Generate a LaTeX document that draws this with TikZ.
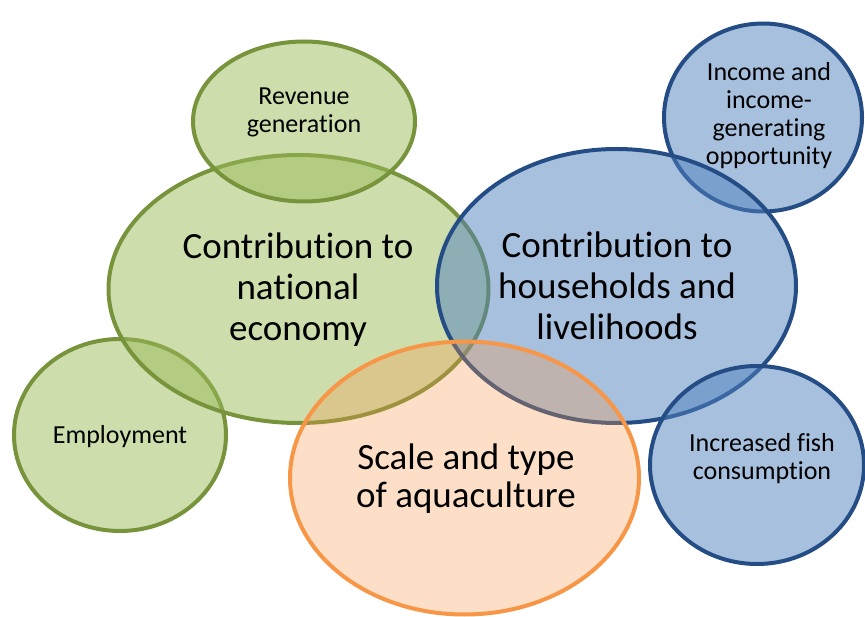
\documentclass[tikz,border=0pt]{standalone}
\usepackage{fontspec}
\setmainfont{Carlito}[Ligatures={NoCommon}]
\usetikzlibrary{shapes.geometric}
\definecolor{gfill}{HTML}{9BBB59}
\definecolor{gline}{HTML}{77933C}
\definecolor{bfill}{HTML}{4F81BD}
\definecolor{bline}{HTML}{254D85}
\definecolor{ofill}{HTML}{F79646}
\definecolor{oline}{HTML}{F79646}
\tikzset{
  bub/.style={ellipse, inner sep=0pt, outer sep=0pt, line width=4pt},
  greenbub/.style={bub, draw=gline, fill=gfill, fill opacity=0.5},
  bluebub/.style={bub, draw=bline, fill=bfill, fill opacity=0.5},
  orangebub/.style={bub, draw=oline, fill=ofill, fill opacity=0.3},
  bigtext/.style={align=center, inner sep=0pt, text=black, font=\fontsize{37}{41}\selectfont},
  midtext/.style={align=center, inner sep=0pt, text=black, font=\fontsize{37}{38}\selectfont},
  smalltext/.style={align=center, inner sep=0pt, text=black, font=\fontsize{26}{28}\selectfont},
}
\begin{document}
\begin{tikzpicture}[x=1pt,y=-1pt]
\useasboundingbox (0,0) rectangle (865,617);
% Employment
\node[greenbub, minimum width=212pt, minimum height=192pt] (empE) at (120,435) {};
\node[smalltext] (empT) at (120,437) {Employment};
% National economy
\node[greenbub, minimum width=380pt, minimum height=268pt] (natE) at (298.5,289) {};
\node[bigtext] (natT) at (298,290) {Contribution to\\national\\economy};
% Revenue
\node[greenbub, minimum width=222pt, minimum height=160pt] (revE) at (304,121.5) {};
\node[smalltext] (revT) at (304,112) {Revenue\\generation};
% Income
\node[bluebub, minimum width=198pt, minimum height=188pt] (incE) at (763,117.5) {};
\node[smalltext] (incT) at (769,116) {Income and\\income-\\generating\\opportunity};
% Households
\node[bluebub, minimum width=359pt, minimum height=274pt] (houE) at (616.5,286) {};
\node[bigtext] (houT) at (617,286) {Contribution to\\households and\\livelihoods};
% Fish consumption
\node[bluebub, minimum width=214pt, minimum height=198pt] (fisE) at (757,465) {};
\node[smalltext] (fisT) at (762,459) {Increased fish\\consumption};
% Scale and type
\node[orangebub, minimum width=349pt, minimum height=273pt] (scaE) at (464.5,478) {};
\node[midtext] (scaT) at (466,479) {Scale and type\\of aquaculture};
\end{tikzpicture}
\end{document}
